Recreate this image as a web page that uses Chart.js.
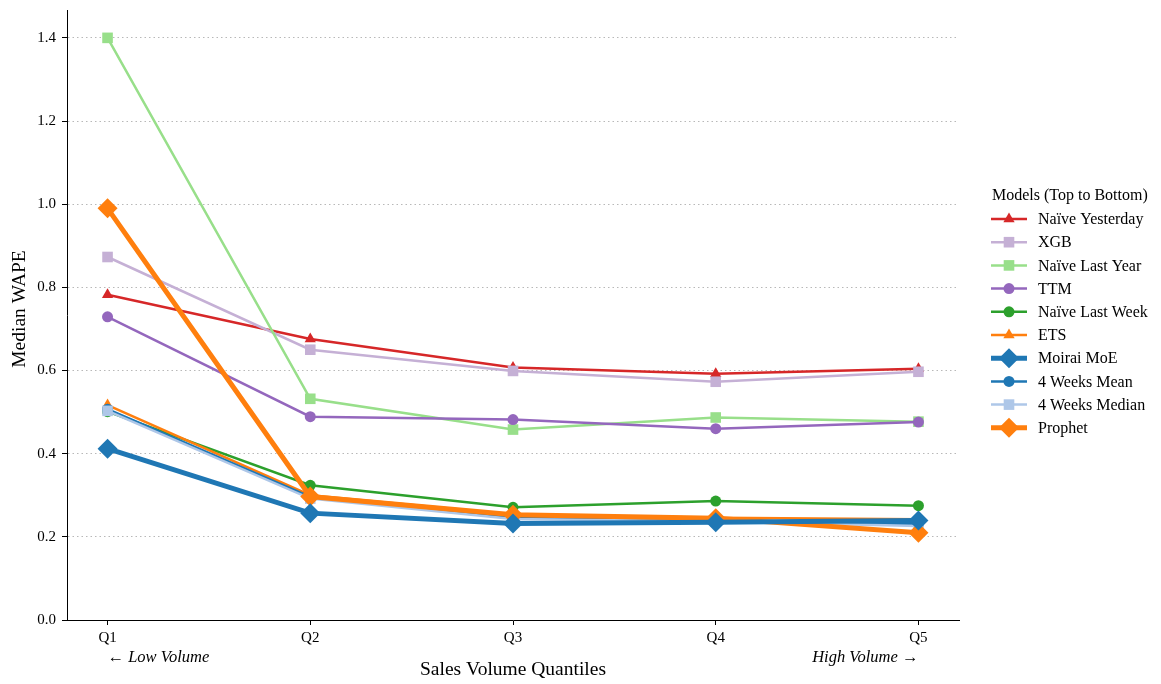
<!DOCTYPE html>
<html>
<head>
<meta charset="utf-8">
<script src="https://cdn.jsdelivr.net/npm/chart.js@4.4.1/dist/chart.umd.min.js"></script>
<style>
  html, body { margin: 0; padding: 0; background: #fff; }
  #wrap { width: 1161px; height: 684px; position: relative; }
</style>
</head>
<body>
<div id="wrap"><canvas id="c"></canvas></div>
<script>
// Quantile categories and tick labels
const quantiles = ['Q1', 'Q2', 'Q3', 'Q4', 'Q5'];
const yTicks = [0.0, 0.2, 0.4, 0.6, 0.8, 1.0, 1.2, 1.4];

// Median WAPE per model and sales-volume quantile
const naiveYesterday  = [0.782, 0.676, 0.607, 0.592, 0.604];
const xgb             = [0.873, 0.650, 0.599, 0.573, 0.597];
const naiveLastYear   = [1.400, 0.532, 0.458, 0.487, 0.477];
const ttm             = [0.729, 0.489, 0.482, 0.460, 0.476];
const naiveLastWeek   = [0.501, 0.324, 0.271, 0.286, 0.275];
const ets             = [0.517, 0.300, 0.254, 0.246, 0.242];
const moiraiMoe       = [0.412, 0.257, 0.232, 0.235, 0.239];
const fourWeeksMean   = [0.507, 0.296, 0.246, 0.240, 0.230];
const fourWeeksMedian = [0.503, 0.292, 0.243, 0.237, 0.226];
const prophet         = [0.990, 0.297, 0.253, 0.245, 0.210];

const FONT = "'Liberation Serif', 'Times New Roman', serif";

const series = [
  { label: 'Naïve Yesterday', data: naiveYesterday,  color: '#d62728', style: 'triangle', r: 6.5, w: 2.5, order: 9 },
  { label: 'XGB',             data: xgb,             color: '#c5b0d5', style: 'rect',     r: 7.5, w: 2.5, order: 8 },
  { label: 'Naïve Last Year', data: naiveLastYear,   color: '#98df8a', style: 'rect',     r: 7.5, w: 2.5, order: 7 },
  { label: 'TTM',             data: ttm,             color: '#9467bd', style: 'circle',   r: 5.5, w: 2.5, order: 6 },
  { label: 'Naïve Last Week', data: naiveLastWeek,   color: '#2ca02c', style: 'circle',   r: 5.5, w: 2.5, order: 5 },
  { label: 'ETS',             data: ets,             color: '#ff7f0e', style: 'triangle', r: 6.5, w: 2.5, order: 4 },
  { label: 'Moirai MoE',      data: moiraiMoe,       color: '#1f77b4', style: 'rectRot',  r: 10,  w: 5,   order: 0 },
  { label: '4 Weeks Mean',    data: fourWeeksMean,   color: '#1f77b4', style: 'circle',   r: 5.5, w: 2.5, order: 3 },
  { label: '4 Weeks Median',  data: fourWeeksMedian, color: '#aec7e8', style: 'rect',     r: 7.5, w: 2.5, order: 2 },
  { label: 'Prophet',         data: prophet,         color: '#ff7f0e', style: 'rectRot',  r: 10,  w: 5,   order: 1 }
];

const datasets = series.map(s => ({
  label: s.label,
  data: s.data.map((v, i) => ({ x: i, y: v })),
  borderColor: s.color,
  backgroundColor: s.color,
  pointBackgroundColor: s.color,
  pointBorderColor: s.color,
  pointBorderWidth: 0,
  pointStyle: s.style,
  pointRadius: s.r,
  borderWidth: s.w,
  tension: 0,
  order: s.order
}));

// Small marker painter for the legend
function marker(ctx, style, x, y, r) {
  ctx.beginPath();
  if (style === 'circle') {
    ctx.arc(x, y, r, 0, Math.PI * 2);
  } else if (style === 'rect') {
    const h = r * Math.SQRT1_2;
    ctx.rect(x - h, y - h, 2 * h, 2 * h);
  } else if (style === 'rectRot') {
    ctx.moveTo(x, y - r); ctx.lineTo(x + r, y); ctx.lineTo(x, y + r); ctx.lineTo(x - r, y);
    ctx.closePath();
  } else if (style === 'triangle') {
    ctx.moveTo(x - r * 0.866, y + r * 0.5);
    ctx.lineTo(x, y - r);
    ctx.lineTo(x + r * 0.866, y + r * 0.5);
    ctx.closePath();
  }
  ctx.fill();
}

const decorations = {
  id: 'decorations',
  afterDraw(chart) {
    const ctx = chart.ctx;
    const area = chart.chartArea;
    const xs = chart.scales.x;
    ctx.save();
    ctx.fillStyle = '#000';

    // axis titles
    ctx.font = `19.5px ${FONT}`;
    ctx.textAlign = 'center';
    ctx.textBaseline = 'middle';
    ctx.fillText('Sales Volume Quantiles', (area.left + area.right) / 2, 670);
    ctx.save();
    ctx.translate(20, 309);
    ctx.rotate(-Math.PI / 2);
    ctx.fillText('Median WAPE', 0, 0);
    ctx.restore();

    // volume direction notes
    ctx.font = `italic 16.5px ${FONT}`;
    ctx.textAlign = 'left';
    ctx.fillText('\u2190 Low Volume', xs.getPixelForValue(0), 658);
    ctx.textAlign = 'right';
    ctx.fillText('High Volume \u2192', xs.getPixelForValue(4), 658);

    // legend
    const lx = 991, mx = 1009, tx = 1038;
    ctx.textAlign = 'left';
    ctx.font = `16px ${FONT}`;
    ctx.fillText('Models (Top to Bottom)', 992, 196);
    series.forEach((s, i) => {
      const y = 219 + i * 23.2;
      ctx.strokeStyle = s.color;
      ctx.fillStyle = s.color;
      ctx.lineWidth = s.w;
      ctx.beginPath();
      ctx.moveTo(lx, y);
      ctx.lineTo(lx + 36, y);
      ctx.stroke();
      marker(ctx, s.style, mx, y, s.r);
      ctx.fillStyle = '#000';
      ctx.fillText(s.label, tx, y + 1);
    });
    ctx.restore();
  }
};

new Chart(document.getElementById('c'), {
  type: 'line',
  data: { datasets },
  options: {
    responsive: true,
    maintainAspectRatio: false,
    animation: false,
    events: [],
    layout: { padding: { left: 0, right: 202, top: 4, bottom: 0 } },
    plugins: { legend: { display: false }, tooltip: { enabled: false } },
    scales: {
      x: {
        type: 'linear',
        min: -0.2,
        max: 4.2,
        afterBuildTicks: s => { s.ticks = quantiles.map((_, i) => ({ value: i })); },
        afterFit: s => { s.height = 64; s.paddingLeft = 0; s.paddingRight = 0; },
        ticks: {
          callback: v => quantiles[v] ?? '',
          font: { family: FONT, size: 15 },
          color: '#000',
          padding: 4,
          maxRotation: 0,
          autoSkip: false
        },
        grid: { drawOnChartArea: false, tickLength: 5, tickColor: '#000', tickWidth: 1 },
        border: { color: '#000', width: 1 }
      },
      y: {
        min: 0,
        max: 1.467,
        afterBuildTicks: s => { s.ticks = yTicks.map(v => ({ value: v })); },
        afterFit: s => { s.width = 67; s.paddingTop = 0; s.paddingBottom = 0; },
        ticks: {
          callback: v => Number(v).toFixed(1),
          font: { family: FONT, size: 15 },
          color: '#000',
          padding: 6
        },
        grid: {
          color: 'rgba(0,0,0,0.28)',
          lineWidth: 1,
          borderDash: [1.5, 3],
          tickLength: 5,
          tickColor: '#000',
          tickBorderDash: []
        },
        border: { color: '#000', width: 1, dash: [1.5, 3] }
      }
    }
  },
  plugins: [decorations]
});
</script>
</body>
</html>
